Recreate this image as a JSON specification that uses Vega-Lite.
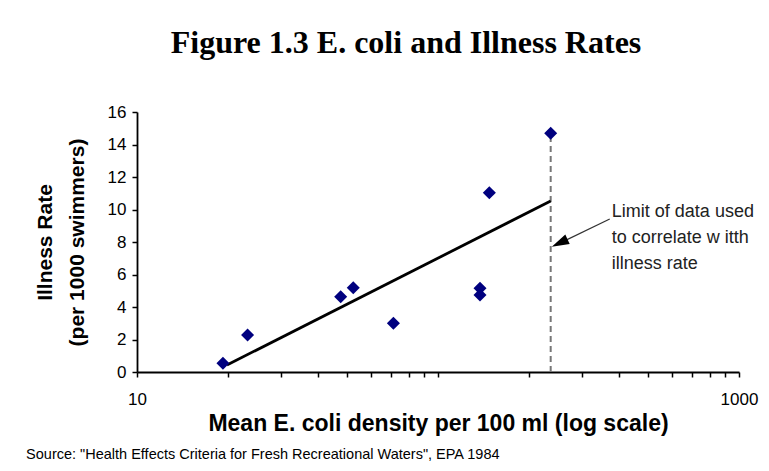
{
  "$schema": "https://vega.github.io/schema/vega-lite/v6.json",
  "background": "white",
  "padding": {"left": 26, "top": 27, "right": 20, "bottom": 8},
  "title": {
    "text": "Source: \"Health Effects Criteria for Fresh Recreational Waters\", EPA 1984",
    "orient": "bottom",
    "anchor": "start",
    "frame": "bounds",
    "font": "Liberation Sans",
    "fontSize": 14.5,
    "fontWeight": "normal",
    "color": "#000000",
    "offset": 13,
    "dx": -8
  },
  "datasets": {
    "points": [
      {"density": 19.3, "rate": 0.54},
      {"density": 23.3, "rate": 2.28},
      {"density": 47.5, "rate": 4.63},
      {"density": 52.3, "rate": 5.19},
      {"density": 71.1, "rate": 3.0},
      {"density": 137.9, "rate": 5.15},
      {"density": 137.9, "rate": 4.74},
      {"density": 148.1, "rate": 11.03},
      {"density": 236.8, "rate": 14.69}
    ],
    "fit": [
      {"density": 19.9, "rate": 0.43},
      {"density": 236.8, "rate": 10.52}
    ],
    "limit": [{"density": 236.8, "rate": 0, "rate2": 14.7}],
    "arrow": [{"density": 372, "rate": 9.42, "density2": 256, "rate2": 7.96}],
    "head": [{"density": 253.6, "rate": 7.94}],
    "note": [
      {"density": 378, "rate": 9.86, "text": "Limit of data used"},
      {"density": 378, "rate": 8.22, "text": "to correlate w itth"},
      {"density": 378, "rate": 6.62, "text": "illness rate"}
    ]
  },
  "vconcat": [
    {
      "width": 602,
      "height": 260,
      "title": {
        "text": "Figure 1.3 E. coli and Illness Rates",
        "font": "Liberation Serif",
        "fontSize": 32,
        "fontWeight": "bold",
        "color": "#000000",
        "anchor": "middle",
        "frame": "group",
        "dx": -32,
        "offset": 43
      },
      "layer": [
        {
          "data": {"name": "limit"},
          "mark": {"type": "rule", "color": "#777777", "strokeWidth": 2, "strokeDash": [6, 4]},
          "encoding": {
            "x": {
              "field": "density",
              "type": "quantitative",
              "scale": {"type": "log", "domain": [10, 1000]},
              "title": "Mean E. coli density per 100 ml (log scale)",
              "axis": {
                "values": [10, 20, 30, 40, 50, 60, 70, 80, 90, 100, 200, 300, 400, 500, 600, 700, 800, 900, 1000],
                "labelExpr": "datum.value == 10 || datum.value == 1000 ? format(datum.value, 'd') : ''",
                "labelPadding": 14,
                "labelFlush": false,
                "tickSize": 5,
                "titlePadding": 5,
                "titleFontSize": 23
              }
            },
            "y": {
              "field": "rate",
              "type": "quantitative",
              "scale": {"domain": [0, 16], "nice": false},
              "title": ["Illness Rate", "(per 1000 swimmers)"],
              "axis": {
                "values": [0, 2, 4, 6, 8, 10, 12, 14, 16],
                "tickCount": 9,
                "labelOverlap": false,
                "tickSize": 5,
                "labelPadding": 6,
                "titlePadding": 20,
                "titleFontSize": 21,
                "titleLineHeight": 32
              }
            },
            "y2": {"field": "rate2"}
          }
        },
        {
          "data": {"name": "fit"},
          "mark": {"type": "line", "color": "#000000", "strokeWidth": 2.8},
          "encoding": {
            "x": {"field": "density", "type": "quantitative"},
            "y": {"field": "rate", "type": "quantitative"}
          }
        },
        {
          "data": {"name": "points"},
          "mark": {"type": "point", "shape": "diamond", "filled": true, "color": "#00007F", "size": 170, "opacity": 1},
          "encoding": {
            "x": {"field": "density", "type": "quantitative"},
            "y": {"field": "rate", "type": "quantitative"}
          }
        },
        {
          "data": {"name": "arrow"},
          "mark": {"type": "rule", "color": "#333333", "strokeWidth": 1.2},
          "encoding": {
            "x": {"field": "density", "type": "quantitative"},
            "y": {"field": "rate", "type": "quantitative"},
            "x2": {"field": "density2"},
            "y2": {"field": "rate2"}
          }
        },
        {
          "data": {"name": "head"},
          "mark": {"type": "point", "shape": "M-1,0L1,-0.6L1,0.6Z", "filled": true, "color": "#000000", "size": 300, "angle": -25, "opacity": 1},
          "encoding": {
            "x": {"field": "density", "type": "quantitative"},
            "y": {"field": "rate", "type": "quantitative"}
          }
        },
        {
          "data": {"name": "note"},
          "mark": {"type": "text", "align": "left", "baseline": "middle", "font": "Liberation Sans", "fontSize": 18, "color": "#222222"},
          "encoding": {
            "x": {"field": "density", "type": "quantitative"},
            "y": {"field": "rate", "type": "quantitative"},
            "text": {"field": "text", "type": "nominal"}
          }
        }
      ]
    }
  ],
  "config": {
    "view": {"stroke": null},
    "axis": {
      "grid": false,
      "domainColor": "#000000",
      "domainWidth": 1.8,
      "tickColor": "#000000",
      "tickWidth": 1.5,
      "labelFont": "Liberation Sans",
      "labelFontSize": 17,
      "labelColor": "#000000",
      "labelOverlap": false,
      "titleFont": "Liberation Sans",
      "titleFontWeight": "bold",
      "titleColor": "#000000"
    }
  }
}
